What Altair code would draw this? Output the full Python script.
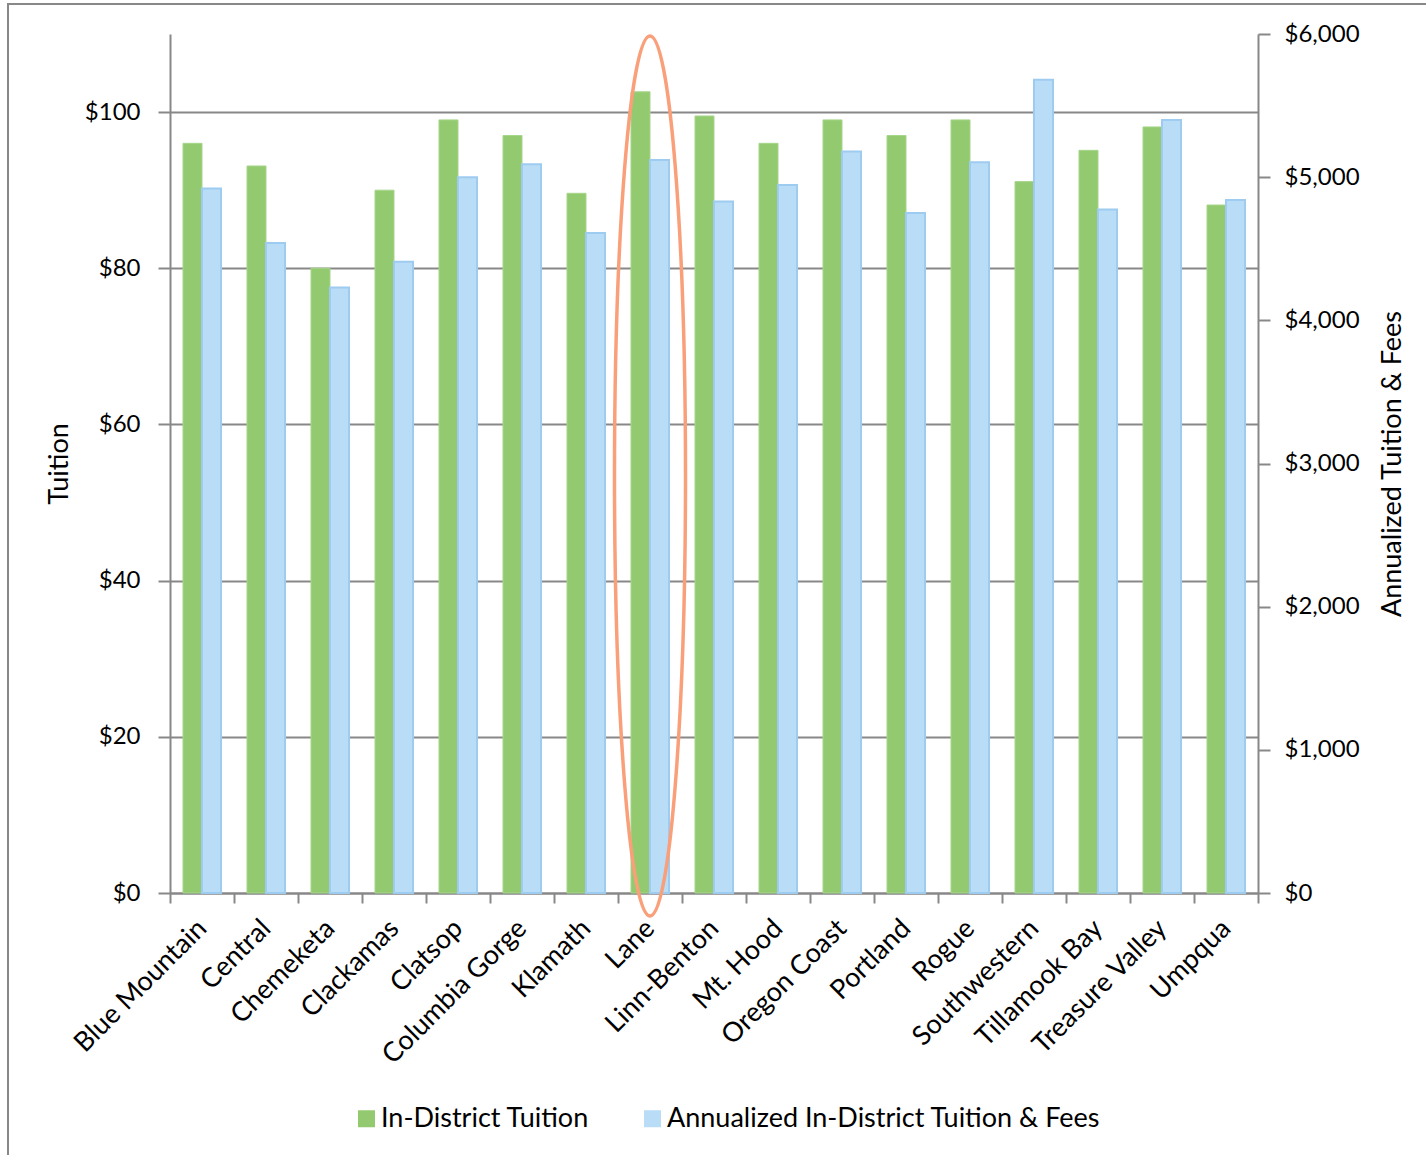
import altair as alt
import pandas as pd

# ---- data ----
categories = ["Blue Mountain", "Central", "Chemeketa", "Clackamas", "Clatsop",
              "Columbia Gorge", "Klamath", "Lane", "Linn-Benton", "Mt. Hood",
              "Oregon Coast", "Portland", "Rogue", "Southwestern", "Tillamook Bay",
              "Treasure Valley", "Umpqua"]
in_district = [96, 93.1, 80, 90, 99, 97, 89.6, 102.6, 99.5, 96, 99, 97, 99, 91.1, 95.1, 98.1, 88.1]
annualized = [4920, 4540, 4230, 4410, 5000, 5090, 4610, 5120, 4830, 4945, 5180, 4750, 5105, 5680, 4775, 5400, 4840]
series_names = ["In-District Tuition", "Annualized In-District Tuition & Fees"]
left_ticks = [0, 20, 40, 60, 80, 100]
right_ticks = [0, 1000, 2000, 3000, 4000, 5000, 6000]
highlight = "Lane"
highlight_low, highlight_high = -2.9, 109.7

FONT = "Lato"
GREY = "#888888"
GREEN = "#93CA70"
BLUE = "#B9DCF7"
TEXT_SIZE = 27
NUM_SIZE = 24

df1 = pd.DataFrame({"college": categories, "value": in_district, "series": series_names[0]})
df2 = pd.DataFrame({"college": categories, "value": annualized, "series": series_names[1]})
df_hl = pd.DataFrame({"college": [highlight], "value": [(highlight_low + highlight_high) / 2]})

x_enc = alt.X("college:N", sort=categories,
              scale=alt.Scale(paddingInner=0, paddingOuter=0),
              axis=alt.Axis(title=None, labelAngle=-45, labelAlign="right",
                            labelBaseline="middle", tickBand="extent", tickSize=10,
                            labelPadding=21, labelFontSize=TEXT_SIZE, labelLimit=0))
xoff = alt.XOffset("series:N", scale=alt.Scale(domain=series_names, paddingInner=0, paddingOuter=0.684))
color = alt.Color("series:N", scale=alt.Scale(domain=series_names, range=[GREEN, BLUE]),
                  legend=alt.Legend(title=None, orient="none", legendX=183, legendY=1071,
                                    direction="horizontal", symbolType="square",
                                    symbolSize=289, labelFont=FONT, labelFontSize=TEXT_SIZE,
                                    labelColor="black", columnPadding=49, labelOffset=1,
                                    labelLimit=0, symbolStrokeWidth=0))

green_bars = alt.Chart(df1).mark_bar(stroke="#A6D68A", strokeWidth=1).encode(
    x=x_enc, xOffset=xoff,
    y=alt.Y("value:Q", scale=alt.Scale(domain=[0, 110], nice=False),
            axis=alt.Axis(values=left_ticks, format="$,.0f", title="Tuition", grid=True,
                          orient="left", tickSize=12, labelPadding=18, titlePadding=11)),
    color=color,
)

blue_bars = alt.Chart(df2).mark_bar(stroke="#9ECCF1", strokeWidth=2).encode(
    x=x_enc, xOffset=xoff,
    y=alt.Y("value:Q", scale=alt.Scale(domain=[0, 6000], nice=False),
            axis=alt.Axis(values=right_ticks, format="$,.0f", title="Annualized Tuition & Fees",
                          grid=False, orient="right", tickSize=12, labelPadding=14,
                          titlePadding=20, titleAngle=-90, titleBaseline="top")),
    color=color,
)

a = 0.0807
k = 0.5523
ellipse_path = (f"M 0 -1 C {k*a:.4f} -1 {a} {-k:.4f} {a} 0 "
                f"C {a} {k:.4f} {k*a:.4f} 1 0 1 "
                f"C {-k*a:.4f} 1 {-a} {k:.4f} {-a} 0 "
                f"C {-a} {-k:.4f} {-k*a:.4f} -1 0 -1 Z")

ellipse = alt.Chart(df_hl).mark_point(shape=ellipse_path, size=880 * 880, filled=False,
                                      stroke="#F9A07A", strokeWidth=3.5, opacity=1,
                                      clip=False).encode(
    x=alt.X("college:N", sort=categories),
    y=alt.Y("value:Q", scale=alt.Scale(domain=[0, 110], nice=False), axis=None),
)

border = alt.Chart(pd.DataFrame({"k": [0]})).mark_rect(
    fillOpacity=0, stroke=GREY, strokeWidth=2, clip=False).encode(
    x=alt.value(-162), x2=alt.value(1270), y=alt.value(-30), y2=alt.value(1140))

chart = alt.layer(green_bars, blue_bars, ellipse, border).resolve_scale(
    y="independent"
).properties(
    width=1088, height=859,
    padding={"left": 170, "top": 34, "right": 168, "bottom": 262},
    autosize=alt.AutoSizeParams(type="none"),
    background="white",
).configure_view(strokeOpacity=0).configure_axis(
    domainColor=GREY, domainWidth=2, tickColor=GREY, tickWidth=2,
    gridColor=GREY, gridWidth=2, labelFont=FONT, labelFontSize=NUM_SIZE, labelColor="black",
    titleFont=FONT, titleFontSize=TEXT_SIZE, titleFontWeight="normal", titleColor="black",
)

chart.save("out.html", embed_options={"renderer": "svg", "actions": False})
